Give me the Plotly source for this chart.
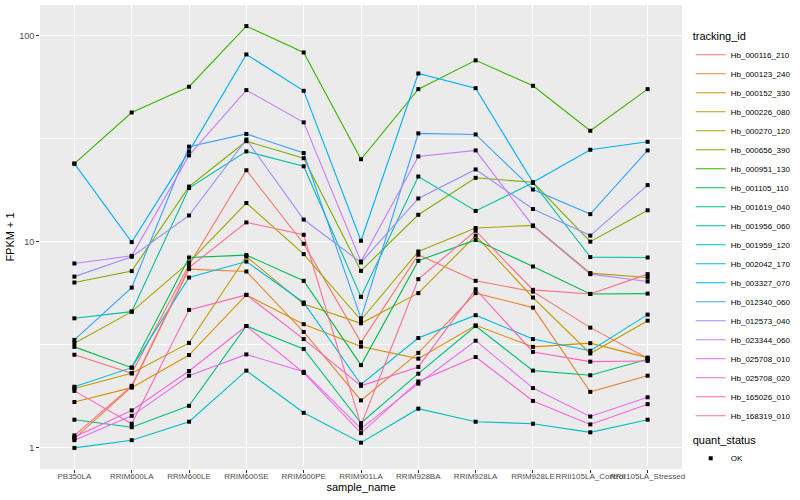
import math
import plotly.graph_objects as go

samples = ["PB350LA", "RRIM600LA", "RRIM600LE", "RRIM600SE", "RRIM600PE", "RRIM901LA",
           "RRIM928BA", "RRIM928LA", "RRIM928LE", "RRII105LA_Control", "RRII105LA_Stressed"]

tracking_ids = ["Hb_000116_210", "Hb_000123_240", "Hb_000152_330", "Hb_000226_080",
                "Hb_000270_120", "Hb_000656_390", "Hb_000951_130", "Hb_001105_110",
                "Hb_001619_040", "Hb_001956_060", "Hb_001959_120", "Hb_002042_170",
                "Hb_003327_070", "Hb_012340_060", "Hb_012573_040", "Hb_023344_060",
                "Hb_025708_010", "Hb_025708_020", "Hb_165026_010", "Hb_168319_010"]

hb_000116_210 = [2.83, 2.30, 7.72, 22.2, 9.77, 3.25, 8.64, 6.46, 5.73, 3.83, 2.72]
hb_000123_240 = [1.11, 1.98, 7.36, 7.17, 3.65, 1.70, 2.89, 5.63, 4.79, 1.87, 2.24]
hb_000152_330 = [1.67, 1.96, 2.82, 5.52, 3.98, 3.10, 2.71, 3.93, 3.09, 3.22, 2.74]
hb_000226_080 = [1.94, 2.30, 3.23, 8.47, 4.99, 4.02, 5.63, 10.7, 5.36, 2.87, 4.14]
hb_000270_120 = [3.22, 4.58, 7.93, 15.4, 8.70, 4.17, 8.96, 11.65, 11.99, 7.04, 6.70]
hb_000656_390 = [6.34, 7.20, 18.5, 30.7, 25.4, 7.22, 13.5, 20.4, 19.4, 10.0, 14.2]
hb_000951_130 = [23.9, 42.3, 56.4, 111.0, 82.7, 25.1, 54.9, 75.7, 57.0, 34.5, 54.9]
hb_001105_110 = [3.09, 2.45, 8.38, 8.61, 6.46, 2.52, 8.08, 10.2, 7.58, 5.58, 5.60]
hb_001619_040 = [1.37, 1.26, 1.60, 3.90, 3.02, 1.32, 2.29, 3.90, 2.37, 2.25, 2.69]
hb_001956_060 = [4.25, 4.58, 18.2, 27.4, 23.2, 5.40, 20.7, 14.1, 19.3, 8.42, 8.38]
hb_001959_120 = [1.00, 1.09, 1.34, 2.37, 1.48, 1.06, 1.55, 1.34, 1.31, 1.19, 1.37]
hb_002042_170 = [1.98, 2.45, 6.70, 8.01, 5.07, 2.03, 3.41, 4.40, 3.37, 2.96, 4.43]
hb_003327_070 = [23.9, 9.95, 27.4, 80.9, 53.9, 10.1, 65.4, 55.5, 19.4, 27.9, 30.5]
hb_012340_060 = [3.34, 5.99, 28.9, 33.3, 26.9, 4.25, 33.5, 33.1, 17.9, 13.6, 27.7]
hb_012573_040 = [6.77, 8.45, 13.4, 31.3, 12.8, 7.93, 16.2, 22.4, 14.4, 10.7, 18.8]
hb_023344_060 = [7.84, 8.54, 26.2, 54.3, 37.9, 8.01, 25.9, 27.7, 11.9, 6.96, 6.41]
hb_025708_010 = [1.09, 1.43, 2.24, 2.84, 2.34, 1.24, 2.05, 3.31, 1.95, 1.42, 1.76]
hb_025708_020 = [1.13, 1.52, 2.36, 3.90, 2.31, 1.18, 2.10, 2.76, 1.69, 1.30, 1.63]
hb_165026_010 = [1.89, 1.31, 4.67, 5.52, 3.37, 2.00, 2.47, 5.88, 2.92, 2.62, 2.64]
hb_168319_010 = [1.15, 2.00, 7.49, 12.4, 10.8, 1.29, 6.58, 11.3, 5.84, 5.58, 6.96]

series = [hb_000116_210, hb_000123_240, hb_000152_330, hb_000226_080, hb_000270_120,
          hb_000656_390, hb_000951_130, hb_001105_110, hb_001619_040, hb_001956_060,
          hb_001959_120, hb_002042_170, hb_003327_070, hb_012340_060, hb_012573_040,
          hb_023344_060, hb_025708_010, hb_025708_020, hb_165026_010, hb_168319_010]

colors = ["#F8766D", "#EA8331", "#D89000", "#C09B00", "#A3A500", "#7CAE00", "#39B600",
          "#00BB4E", "#00BF7D", "#00C1A3", "#00BFC4", "#00BAE0", "#00B0F6", "#35A2FF",
          "#9590FF", "#C77CFF", "#E76BF3", "#FA62DB", "#FF62BC", "#FF6C91"]

y_ticks = [1, 10, 100]
y_tick_labels = ["1", "10", "100"]

fig = go.Figure()
for name, vals, col in zip(tracking_ids, series, colors):
    fig.add_trace(go.Scatter(x=samples, y=vals, mode="lines", name=name,
                             line=dict(color=col, width=1.1), legend="legend"))

all_x = [s for vals in series for s in samples]
all_y = [v for vals in series for v in vals]
fig.add_trace(go.Scatter(x=all_x, y=all_y, mode="markers", name="OK",
                         marker=dict(symbol="square", size=4, color="black"),
                         legend="legend2"))

lo = math.log10(min(all_y))
hi = math.log10(max(all_y))
pad = 0.05 * (hi - lo)

x_tick_font = dict(family="Liberation Sans", size=8, color="#4D4D4D")
y_tick_font = dict(family="Liberation Sans", size=9, color="#4D4D4D")
fig.update_layout(
    width=800, height=500,
    margin=dict(l=40, r=117, t=5, b=31),
    paper_bgcolor="white", plot_bgcolor="#EBEBEB",
    font=dict(family="Liberation Sans", size=11, color="black"),
    xaxis=dict(type="category", range=[-0.6, len(samples) - 0.4], tickangle=0,
               showgrid=True, gridcolor="white", gridwidth=1.1, zeroline=False,
               ticks="outside", ticklen=3, tickcolor="#333333", tickfont=x_tick_font,
               ticklabelstandoff=-4,
               title=dict(text="sample_name", font=dict(size=11), standoff=2),
               showline=False, automargin=False),
    yaxis=dict(type="log", range=[lo - pad, hi + pad], tickvals=y_ticks, ticktext=y_tick_labels,
               showgrid=True, gridcolor="white", gridwidth=1.1, zeroline=False,
               ticks="outside", ticklen=3, tickcolor="#333333", tickfont=y_tick_font,
               minor=dict(tickvals=[10 ** 0.5, 10 ** 1.5], showgrid=True,
                          gridcolor="white", gridwidth=0.55, ticks=""),
               title=dict(text="FPKM + 1", font=dict(size=11), standoff=2),
               showline=False, automargin=False),
    legend=dict(title=dict(text="tracking_id", font=dict(size=11)),
                x=1.012, xanchor="left", y=0.955, yanchor="top",
                font=dict(size=8, color="black"), bgcolor="white",
                itemwidth=30, tracegroupgap=0),
    legend2=dict(title=dict(text="quant_status", font=dict(size=11)),
                 x=1.012, xanchor="left", y=0.085, yanchor="top",
                 font=dict(size=8, color="black"), bgcolor="white", itemwidth=30),
)

fig.write_html("out.html", config={"displayModeBar": False},
               post_script="document.body.style.margin='0';")
